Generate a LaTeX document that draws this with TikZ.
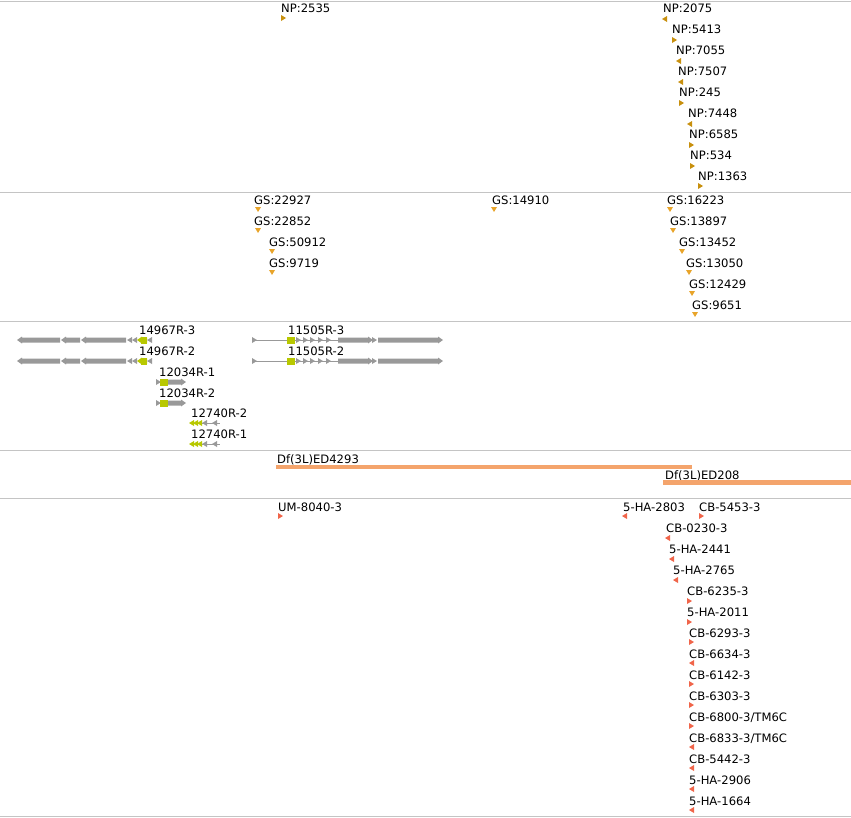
\documentclass[tikz,border=0pt]{standalone}
\usepackage{fontspec}
\setmainfont{DejaVu Sans}
\usetikzlibrary{positioning}
\definecolor{npcol}{HTML}{C8900E}
\definecolor{gscol}{HTML}{E8A42A}
\definecolor{genecol}{HTML}{999999}
\definecolor{cdscol}{HTML}{B8C800}
\definecolor{dfcol}{HTML}{F4A46C}
\definecolor{stcol}{HTML}{F0654A}
\definecolor{sepcol}{HTML}{C4C4C4}
\tikzset{lab/.style={anchor=base west, inner sep=0pt, font=\fontsize{11.6}{13}\selectfont}}
\tikzset{sep/.style={draw=sepcol, line width=1pt}}
\tikzset{rtri/.pic={\path[pic actions] (0,-3) -- (5,0) -- (0,3) -- cycle;}}
\tikzset{ltri/.pic={\path[pic actions] (0,0) -- (5,-3) -- (5,3) -- cycle;}}
\tikzset{dtri/.pic={\path[pic actions] (0,0) -- (6,0) -- (3,5) -- cycle;}}
\tikzset{pics/lex/.style={code={\path[pic actions] (0,0) -- (5,-3.5) -- (5,-2.5) -- (#1,-2.5) -- (#1,2.5) -- (5,2.5) -- (5,3.5) -- cycle;}}}
\tikzset{pics/rex/.style={code={\path[pic actions] (0,-2.5) -- (#1-5,-2.5) -- (#1-5,-3.5) -- (#1,0) -- (#1-5,3.5) -- (#1-5,2.5) -- (0,2.5) -- cycle;}}}
\tikzset{np/.style={fill=npcol}, gs/.style={fill=gscol}, st/.style={fill=stcol}}
\tikzset{gene/.style={fill=genecol}, cds/.style={fill=cdscol}}

\begin{document}
\begin{tikzpicture}[x=1pt,y=-1pt]
\useasboundingbox (0,0) rectangle (851,817);

\draw[sep] (0,1) -- (851,1);
\draw[sep] (0,192) -- (851,192);
\draw[sep] (0,321) -- (851,321);
\draw[sep] (0,450) -- (851,450);
\draw[sep] (0,498) -- (851,498);
\draw[sep] (0,816) -- (851,816);

\node[lab] (np2535) at (281,12) {NP:2535};
\pic[np] at (281,18) {rtri};
\node[lab] (np2075) at (663,12) {NP:2075};
\pic[np] at (662,19) {ltri};
\node[lab] (np5413) at (672,33) {NP:5413};
\pic[np] at (672,40) {rtri};
\node[lab] (np7055) at (676,54) {NP:7055};
\pic[np] at (676,61) {ltri};
\node[lab] (np7507) at (678,75) {NP:7507};
\pic[np] at (678,82) {ltri};
\node[lab] (np245) at (679,96) {NP:245};
\pic[np] at (679,103) {rtri};
\node[lab] (np7448) at (688,117) {NP:7448};
\pic[np] at (687,124) {ltri};
\node[lab] (np6585) at (689,138) {NP:6585};
\pic[np] at (689,145) {rtri};
\node[lab] (np534) at (690,159) {NP:534};
\pic[np] at (690,166) {rtri};
\node[lab] (np1363) at (698,180) {NP:1363};
\pic[np] at (698,186) {rtri};

\node[lab] (gs22927) at (254,204) {GS:22927};
\pic[gs] at (255,207) {dtri};
\node[lab] (gs22852) at (254,225) {GS:22852};
\pic[gs] at (255,228) {dtri};
\node[lab] (gs50912) at (269,246) {GS:50912};
\pic[gs] at (269,249) {dtri};
\node[lab] (gs9719) at (269,267) {GS:9719};
\pic[gs] at (269,270) {dtri};
\node[lab] (gs14910) at (492,204) {GS:14910};
\pic[gs] at (491,207) {dtri};
\node[lab] (gs16223) at (667,204) {GS:16223};
\pic[gs] at (667,207) {dtri};
\node[lab] (gs13897) at (670,225) {GS:13897};
\pic[gs] at (670,228) {dtri};
\node[lab] (gs13452) at (679,246) {GS:13452};
\pic[gs] at (679,249) {dtri};
\node[lab] (gs13050) at (686,267) {GS:13050};
\pic[gs] at (686,270) {dtri};
\node[lab] (gs12429) at (689,288) {GS:12429};
\pic[gs] at (689,291) {dtri};
\node[lab] (gs9651) at (692,309) {GS:9651};
\pic[gs] at (692,312) {dtri};

\node[lab] (r14967c) at (139,334) {14967R-3};
\pic[gene] at (17,340) {lex=43};
\pic[gene] at (61,340) {lex=19};
\pic[gene] at (81,340) {lex=45};
\pic[gene] at (127,340) {ltri};
\pic[gene] at (132,340) {ltri};
\pic[cds] at (137,340) {lex=10};
\fill[cdscol] (141,336.5) rectangle (147,343.5);
\pic[gene] at (147,340) {ltri};
\node[lab] (r14967b) at (139,355) {14967R-2};
\pic[gene] at (17,361) {lex=43};
\pic[gene] at (61,361) {lex=19};
\pic[gene] at (81,361) {lex=45};
\pic[gene] at (127,361) {ltri};
\pic[gene] at (132,361) {ltri};
\pic[cds] at (137,361) {lex=10};
\fill[cdscol] (141,357.5) rectangle (147,364.5);
\pic[gene] at (147,361) {ltri};

\node[lab] (r12034a) at (159,376) {12034R-1};
\pic[gene] at (156,382) {rtri};
\fill[cdscol] (160,378.5) rectangle (168,385.5);
\pic[gene] at (168,382) {rex=18};
\node[lab] (r12034b) at (159,397) {12034R-2};
\pic[gene] at (156,403) {rtri};
\fill[cdscol] (160,399.5) rectangle (168,406.5);
\pic[gene] at (168,403) {rex=18};

\node[lab] (r12740b) at (191,417) {12740R-2};
\draw[genecol] (200,423) -- (220,423);
\pic[cds] at (189,423) {ltri};
\pic[cds] at (193,423) {ltri};
\pic[cds] at (197,423) {ltri};
\pic[gene] at (202,423) {ltri};
\pic[gene] at (212,423) {ltri};
\node[lab] (r12740a) at (191,438) {12740R-1};
\draw[genecol] (200,444) -- (220,444);
\pic[cds] at (189,444) {ltri};
\pic[cds] at (193,444) {ltri};
\pic[cds] at (197,444) {ltri};
\pic[gene] at (202,444) {ltri};
\pic[gene] at (212,444) {ltri};

\node[lab] (r11505c) at (288,334) {11505R-3};
\draw[genecol] (252,340) -- (287,340);
\pic[gene] at (252,340) {rtri};
\fill[cdscol] (287,336.5) rectangle (295,343.5);
\draw[genecol] (295,340) -- (338,340);
\pic[gene] at (296,340) {rtri};
\pic[gene] at (303,340) {rtri};
\pic[gene] at (310,340) {rtri};
\pic[gene] at (318,340) {rtri};
\pic[gene] at (326,340) {rtri};
\pic[gene] at (338,340) {rex=35};
\pic[gene] at (372,340) {rtri};
\pic[gene] at (378,340) {rex=65};
\node[lab] (r11505b) at (288,355) {11505R-2};
\draw[genecol] (252,361) -- (287,361);
\pic[gene] at (252,361) {rtri};
\fill[cdscol] (287,357.5) rectangle (295,364.5);
\draw[genecol] (295,361) -- (338,361);
\pic[gene] at (296,361) {rtri};
\pic[gene] at (303,361) {rtri};
\pic[gene] at (310,361) {rtri};
\pic[gene] at (318,361) {rtri};
\pic[gene] at (326,361) {rtri};
\pic[gene] at (338,361) {rex=35};
\pic[gene] at (372,361) {rtri};
\pic[gene] at (378,361) {rex=65};

\node[lab] (ed4293) at (277,463) {Df(3L)ED4293};
\fill[dfcol] (276,465) rectangle (692,469);
\node[lab] (ed208) at (665,479) {Df(3L)ED208};
\fill[dfcol] (663,480) rectangle (851,485);

\node[lab] (um8040) at (278,511) {UM-8040-3};
\pic[st] at (278,516) {rtri};
\node[lab] (ha2803) at (623,511) {5-HA-2803};
\pic[st] at (622,516) {ltri};
\node[lab] (cb5453) at (699,511) {CB-5453-3};
\pic[st] at (699,516) {rtri};
\node[lab] (cb0230) at (666,532) {CB-0230-3};
\pic[st] at (665,538) {ltri};
\node[lab] (ha2441) at (669,553) {5-HA-2441};
\pic[st] at (669,559) {ltri};
\node[lab] (ha2765) at (673,574) {5-HA-2765};
\pic[st] at (673,580) {ltri};
\node[lab] (cb6235) at (687,595) {CB-6235-3};
\pic[st] at (687,601) {rtri};
\node[lab] (ha2011) at (687,616) {5-HA-2011};
\pic[st] at (687,622) {rtri};
\node[lab] (cb6293) at (689,637) {CB-6293-3};
\pic[st] at (689,642) {rtri};
\node[lab] (cb6634) at (689,658) {CB-6634-3};
\pic[st] at (689,663) {ltri};
\node[lab] (cb6142) at (689,679) {CB-6142-3};
\pic[st] at (689,684) {rtri};
\node[lab] (cb6303) at (689,700) {CB-6303-3};
\pic[st] at (689,705) {rtri};
\node[lab] (cb6800) at (689,721) {CB-6800-3/TM6C};
\pic[st] at (689,726) {rtri};
\node[lab] (cb6833) at (689,742) {CB-6833-3/TM6C};
\pic[st] at (689,747) {ltri};
\node[lab] (cb5442) at (689,763) {CB-5442-3};
\pic[st] at (689,768) {ltri};
\node[lab] (ha2906) at (689,784) {5-HA-2906};
\pic[st] at (689,789) {ltri};
\node[lab] (ha1664) at (689,805) {5-HA-1664};
\pic[st] at (689,810) {ltri};
\end{tikzpicture}
\end{document}
